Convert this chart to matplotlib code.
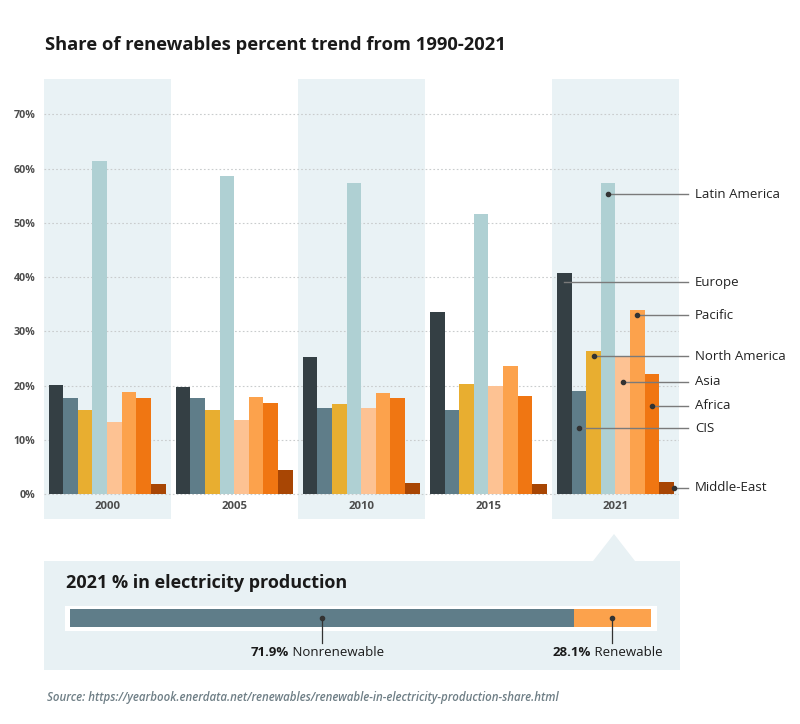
import matplotlib
matplotlib.use('Agg')
import matplotlib.pyplot as plt
from matplotlib.patches import Rectangle, Polygon
import numpy as np

plt.rcParams['font.family'] = ['Open Sans', 'DejaVu Sans']

# data (percent share of renewables)
years = ['2000', '2005', '2010', '2015', '2021']
regions = ['Europe', 'CIS', 'North America', 'Latin America', 'Asia', 'Pacific', 'Africa', 'Middle-East']
europe = [20.1, 19.8, 25.3, 33.6, 40.7]
cis = [17.7, 17.7, 15.9, 15.6, 19.1]
north_america = [15.6, 15.6, 16.7, 20.3, 26.4]
latin_america = [61.4, 58.7, 57.3, 51.6, 57.3]
asia = [13.4, 13.7, 15.9, 19.9, 25.3]
pacific = [18.9, 18.0, 18.7, 23.6, 33.9]
africa = [17.7, 16.9, 17.7, 18.2, 22.1]
middle_east = [1.95, 4.4, 2.1, 1.95, 2.2]
# height of the leader line for each region label on the 2021 group
label_y = [39.1, 12.2, 25.4, 55.3, 20.7, 33.0, 16.3, 1.2]

yticks = [0, 10, 20, 30, 40, 50, 60, 70]

mix_labels = ['Nonrenewable', 'Renewable']
mix_pct = [71.9, 28.1]
mix_drawn = [86.7, 13.3]   # segment lengths as drawn in the reference bar

colors = ['#343f44', '#5f7d89', '#e8ae30', '#afd0d3', '#fdc293', '#fca24c', '#f07612', '#a84604']
band = '#e9f2f5'
narrow = ['Liberation Sans Narrow', 'Open Sans', 'DejaVu Sans']

series = [europe, cis, north_america, latin_america, asia, pacific, africa, middle_east]

fig = plt.figure(figsize=(8, 7.24), dpi=100)

# overlay in pixel coordinates for text / panels
bg = fig.add_axes([0, 0, 1, 1], zorder=0)
bg.set_xlim(0, 800)
bg.set_ylim(724, 0)
bg.axis('off')

ax = fig.add_axes([43.5 / 800, 1 - 519 / 724, 635.5 / 800, 440 / 724], zorder=1)
ax.patch.set_visible(False)
ax.set_ylim(-(519 - 494.3) / 5.4286, 70 + (114.3 - 79) / 5.4286)
ax.set_xlim(-0.5, len(years) - 0.5)

for i in range(0, len(years), 2):
    ax.axvspan(i - 0.5, i + 0.5, color=band, lw=0, zorder=0)
for t in yticks:
    ax.axhline(t, color='#c9cccd', lw=0.8, ls=(0, (1.5, 2)), zorder=1)

w = 0.115
x = np.arange(len(years))
for k, (vals, c) in enumerate(zip(series, colors)):
    ax.bar(x + (k - 3.5) * w, vals, width=w, color=c, lw=0, zorder=2)

for spine in ax.spines.values():
    spine.set_visible(False)
ax.set_xticks([])
ax.set_yticks(yticks)
ax.set_yticklabels([f'{t}%' for t in yticks], fontsize=7.7, fontweight='bold', color='#4d4d4d')
ax.tick_params(axis='y', length=0, pad=6)

for i, yr in enumerate(years):
    ax.text(i, -2.2, yr, ha='center', va='center', fontsize=8.2, fontweight='bold', color='#4d4d4d')

# region labels on the last group
last = len(years) - 1
x_end = (688 - 43.5) / 127.1 - 0.5
x_txt = (695 - 43.5) / 127.1 - 0.5
for k, (name, ly) in enumerate(zip(regions, label_y)):
    bx = last + (k - 3.5) * w
    if k == len(regions) - 1:
        bx += w / 2   # middle-east dot sits on the bar edge
    ax.plot([bx, x_end], [ly, ly], color='#7a7a7a', lw=1.0, zorder=3, clip_on=False)
    if k != 0:
        ax.plot(bx, ly, 'o', ms=3, color='#333333', zorder=4, clip_on=False)
    ax.text(x_txt, ly, name, ha='left', va='center', fontsize=9.5, color='#222222', clip_on=False)

# title
bg.text(45, 50, 'Share of renewables percent trend from 1990-2021', ha='left', va='baseline',
        fontsize=13.2, fontweight='bold', color='#1a1a1a')

# bottom panel
bg.add_patch(Rectangle((44, 561), 636, 109, color='#e8f1f4', lw=0))
bg.add_patch(Polygon([(593, 561), (614, 534), (635, 561)], closed=True, color='#e8f1f4', lw=0))
bg.text(66, 588, '2021 % in electricity production', ha='left', va='baseline',
        fontsize=13, fontweight='bold', color='#1a1a1a', family=narrow)
bg.add_patch(Rectangle((65, 606), 592, 25, color='white', lw=0))

mx = fig.add_axes([70 / 800, 1 - 627 / 724, 581 / 800, 18 / 724], zorder=2)
mx.set_xlim(0, 100)
mx.set_ylim(-0.5, 0.5)
mx.axis('off')
left = np.concatenate([[0], np.cumsum(mix_drawn)[:-1]])
mx.barh(0, mix_drawn, left=left, height=1, color=['#5f7d89', '#fca24c'], lw=0)

texts = []
for seg, lf, pct, lab in zip(mix_drawn, left, mix_pct, mix_labels):
    cx = lf + seg / 2
    mx.plot([cx, cx], [0, -1.4], color='#333333', lw=0.9, clip_on=False)
    mx.plot(cx, 0, 'o', ms=3, color='#333333', clip_on=False)
    tb = mx.text(cx, -1.9, f'{pct}%', ha='left', va='center', fontsize=9.5, fontweight='bold',
                 color='#1a1a1a', family=narrow, clip_on=False)
    tr = mx.text(cx, -1.9, ' ' + lab, ha='left', va='center', fontsize=9.5,
                 color='#1a1a1a', family=narrow, clip_on=False)
    texts.append((cx, tb, tr))

fig.canvas.draw()
r = fig.canvas.get_renderer()
for cx, tb, tr in texts:
    wb = tb.get_window_extent(r).width * 100 / 581
    wr = tr.get_window_extent(r).width * 100 / 581
    start = cx - (wb + wr) / 2 - 0.8
    tb.set_x(start)
    tr.set_x(start + wb)

bg.text(47, 697, 'Source: https://yearbook.enerdata.net/renewables/renewable-in-electricity-production-share.html',
        ha='left', va='center', fontsize=8.3, style='italic', fontweight='semibold', color='#6f7f86')

fig.savefig('out.png', dpi=100)
